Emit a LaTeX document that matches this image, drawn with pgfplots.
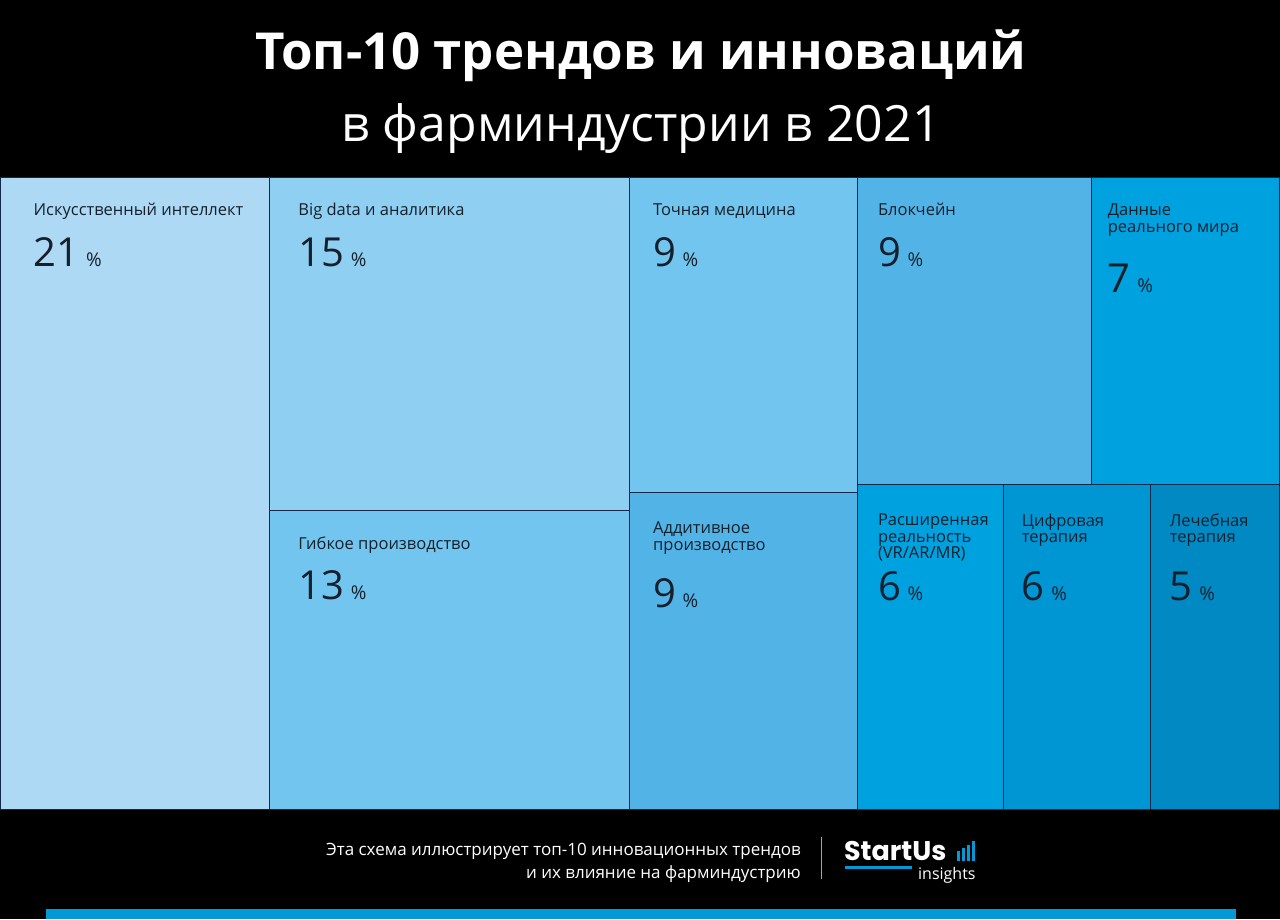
\documentclass[border=0pt]{standalone}
\usepackage{pgfplots}
\pgfplotsset{compat=1.18}
\usepackage{fontspec}
\setmainfont{Open Sans}
\newfontfamily\logofont{Poppins}
\definecolor{c1}{HTML}{ADD9F5}
\definecolor{c2}{HTML}{8FD0F2}
\definecolor{c3}{HTML}{72C5EF}
\definecolor{c4}{HTML}{52B4E6}
\definecolor{c5}{HTML}{00A1DF}
\definecolor{c6}{HTML}{0096D4}
\definecolor{c7}{HTML}{0089C2}
\definecolor{edge}{HTML}{14284A}
\definecolor{lbl}{HTML}{15202C}
\definecolor{bar}{HTML}{0399D7}
\begin{document}
\begin{tikzpicture}
\begin{axis}[
  width=1280pt, height=920pt, scale only axis,
  xmin=0, xmax=1280, ymin=0, ymax=920, y dir=reverse,
  hide axis, clip=false,
]
% background
\addplot[fill=black, draw=none] coordinates {(0,0) (1280,0) (1280,920) (0,920)} --cycle;
% treemap rectangles (share: 21,15,13,9,9,9,7,6,6,5)
\addplot[fill=c1, draw=edge, line width=1pt] coordinates {(0,178) (269,178) (269,810) (0,810)} --cycle;
\addplot[fill=c2, draw=edge, line width=1pt] coordinates {(269,178) (629,178) (629,511) (269,511)} --cycle;
\addplot[fill=c3, draw=edge, line width=1pt] coordinates {(269,511) (629,511) (629,810) (269,810)} --cycle;
\addplot[fill=c3, draw=edge, line width=1pt] coordinates {(629,178) (858,178) (858,493) (629,493)} --cycle;
\addplot[fill=c4, draw=edge, line width=1pt] coordinates {(629,493) (858,493) (858,810) (629,810)} --cycle;
\addplot[fill=c4, draw=edge, line width=1pt] coordinates {(858,178) (1092,178) (1092,485) (858,485)} --cycle;
\addplot[fill=c5, draw=edge, line width=1pt] coordinates {(1092,178) (1280,178) (1280,485) (1092,485)} --cycle;
\addplot[fill=c5, draw=edge, line width=1pt] coordinates {(858,485) (1004,485) (1004,810) (858,810)} --cycle;
\addplot[fill=c6, draw=edge, line width=1pt] coordinates {(1004,485) (1151,485) (1151,810) (1004,810)} --cycle;
\addplot[fill=c7, draw=edge, line width=1pt] coordinates {(1151,485) (1280,485) (1280,810) (1151,810)} --cycle;
% bottom bar
\addplot[fill=bar, draw=none] coordinates {(46,910) (1236,910) (1236,920) (46,920)} --cycle;
% separator
\addplot[draw=gray!70, line width=1pt] coordinates {(822,838) (822,880)};
% logo underline and bars
\addplot[draw=bar, line width=2.5pt] coordinates {(845,868) (912,868)};
\addplot[fill=bar, draw=none] coordinates {(957,862) (960,862) (960,852) (957,852)} --cycle;
\addplot[fill=bar, draw=none] coordinates {(962,862) (965,862) (965,849) (962,849)} --cycle;
\addplot[fill=bar, draw=none] coordinates {(967,862) (970,862) (970,846) (967,846)} --cycle;
\addplot[fill=bar, draw=none] coordinates {(972,862) (975,862) (975,842) (972,842)} --cycle;

% title
\node[anchor=base, text=white, font=\fontsize{51}{55}\selectfont\bfseries] at (axis cs:641,70) {Топ-10 трендов и инноваций};
\node[anchor=base, text=white, font=\fontsize{50}{55}\selectfont] at (axis cs:641,142) {в фарминдустрии в 2021};

% labels
\tikzset{lab/.style={anchor=base west, text=lbl, font=\fontsize{16.5}{16.5}\selectfont, align=left, inner sep=0pt},
         num/.style={anchor=base west, text=lbl, font=\fontsize{40}{40}\selectfont, inner sep=0pt}}
\newcommand{\pc}[1]{#1\,{\fontsize{19}{19}\selectfont\%}}
\node[lab] at (axis cs:33,216) {Искусственный интеллект};
\node[num] at (axis cs:33,267) {\pc{21}};
\node[lab] at (axis cs:298,216) {Big data и аналитика};
\node[num] at (axis cs:298,267) {\pc{15}};
\node[lab] at (axis cs:298,550) {Гибкое производство};
\node[num] at (axis cs:298,600) {\pc{13}};
\node[lab] at (axis cs:653,216) {Точная медицина};
\node[num] at (axis cs:653,267) {\pc{9}};
\node[lab, anchor=north west] at (axis cs:653,522) {\fontsize{16.5}{19}\selectfont Аддитивное\\производство};
\node[num] at (axis cs:653,608) {\pc{9}};
\node[lab] at (axis cs:878,216) {Блокчейн};
\node[num] at (axis cs:878,267) {\pc{9}};
\node[lab, anchor=north west] at (axis cs:1108,204) {\fontsize{16.5}{16}\selectfont Данные\\реального мира};
\node[num] at (axis cs:1108,293) {\pc{7}};
\node[lab, anchor=north west] at (axis cs:878,514) {\fontsize{16.5}{15}\selectfont Расширенная\\реальность\\(VR/AR/MR)};
\node[num] at (axis cs:878,601) {\pc{6}};
\node[lab, anchor=north west] at (axis cs:1022,514) {\fontsize{16.5}{15}\selectfont Цифровая\\терапия};
\node[num] at (axis cs:1022,601) {\pc{6}};
\node[lab, anchor=north west] at (axis cs:1170,514) {\fontsize{16.5}{15}\selectfont Лечебная\\терапия};
\node[num] at (axis cs:1170,601) {\pc{5}};

% footer
\node[anchor=base east, text=white, font=\fontsize{17}{17}\selectfont, inner sep=0pt] at (axis cs:801,856) {Эта схема иллюстрирует топ-10 инновационных трендов};
\node[anchor=base east, text=white, font=\fontsize{17}{17}\selectfont, inner sep=0pt] at (axis cs:801,879) {и их влияние на фарминдустрию};
\node[anchor=base west, text=white, font=\logofont\fontsize{27}{27}\selectfont\bfseries, inner sep=0pt, text depth=0pt] at (axis cs:844,861) {StartUs};
\node[anchor=base east, text=white, font=\fontsize{16}{16}\selectfont, inner sep=0pt, text height=8pt] at (axis cs:976,880) {insights};
\end{axis}
\end{tikzpicture}
\end{document}
